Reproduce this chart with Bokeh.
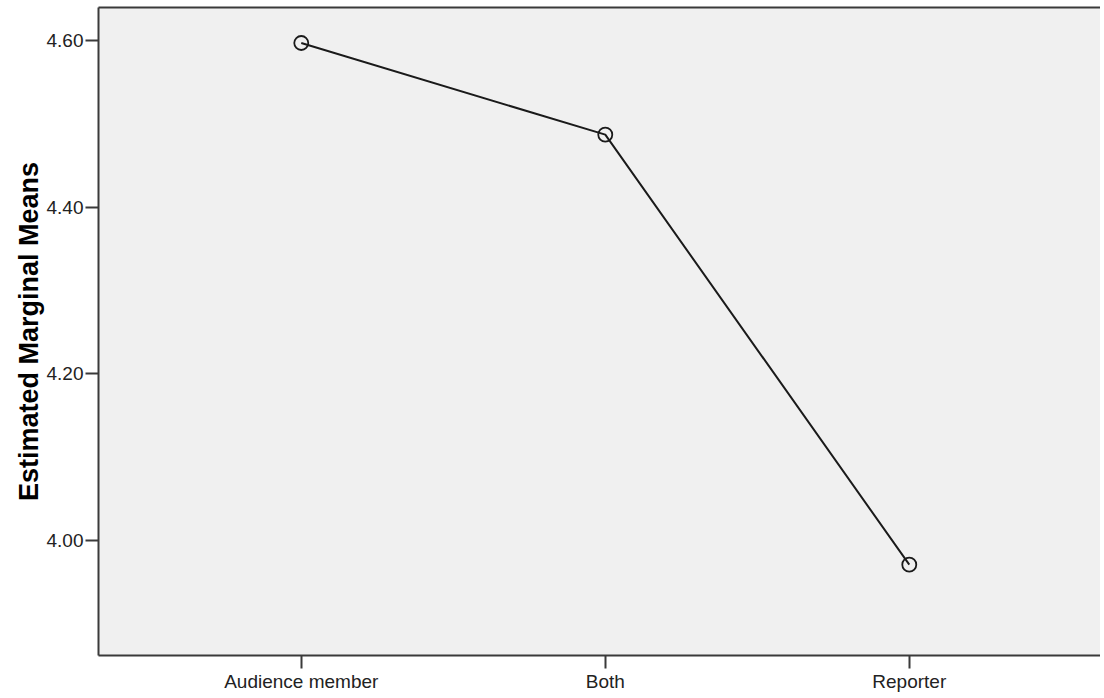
from bokeh.plotting import figure
from bokeh.models import Range1d, FixedTicker, LinearAxis, ColumnDataSource
from bokeh.embed import file_html
from bokeh.resources import INLINE

categories = ["Audience member", "Both", "Reporter"]
means = [4.597, 4.487, 3.971]
y_ticks = [4.00, 4.20, 4.40, 4.60]

xs = list(range(len(categories)))
src = ColumnDataSource(dict(x=xs, y=means))

p = figure(width=1100, height=696, output_backend="svg", toolbar_location=None,
           x_range=Range1d(-0.667, 2.629), y_range=Range1d(3.862, 4.6396),
           min_border_left=98, min_border_right=0, min_border_top=7, min_border_bottom=41)
p.background_fill_color = "#f0f0f0"
p.border_fill_color = "white"
p.outline_line_color = None
p.xgrid.visible = False
p.ygrid.visible = False

p.line("x", "y", source=src, line_color="#1a1a1a", line_width=2)
p.scatter("x", "y", source=src, marker="circle", size=14, fill_color=None,
          line_color="#1a1a1a", line_width=1.8)

font = "Liberation Sans"
p.xaxis.ticker = FixedTicker(ticks=xs)
p.xaxis.major_label_overrides = {i: c for i, c in enumerate(categories)}
p.yaxis.ticker = FixedTicker(ticks=y_ticks)
p.yaxis.major_label_overrides = {t: f"{t:.2f}" for t in y_ticks}
for ax in (p.xaxis, p.yaxis):
    ax.axis_line_color = "#3a3a3a"
    ax.axis_line_width = 2
    ax.major_tick_line_color = "#3a3a3a"
    ax.major_tick_line_width = 2
    ax.major_tick_in = 0
    ax.major_tick_out = 13
    ax.minor_tick_line_color = None
    ax.major_label_text_font = font
    ax.major_label_text_font_size = "19px"
    ax.major_label_text_color = "#222222"
    ax.major_label_standoff = 2

p.yaxis.axis_label = "Estimated Marginal Means"
p.yaxis.axis_label_text_font = font
p.yaxis.axis_label_text_font_style = "bold"
p.yaxis.axis_label_text_font_size = "27px"
p.yaxis.axis_label_text_color = "black"
p.yaxis.axis_label_standoff = 0

top = LinearAxis(axis_line_color="#3a3a3a", axis_line_width=2,
                 major_tick_line_color=None, minor_tick_line_color=None,
                 major_label_text_font_size="0px", ticker=FixedTicker(ticks=[]))
p.add_layout(top, "above")

open("out.html", "w").write(file_html(p, INLINE))
